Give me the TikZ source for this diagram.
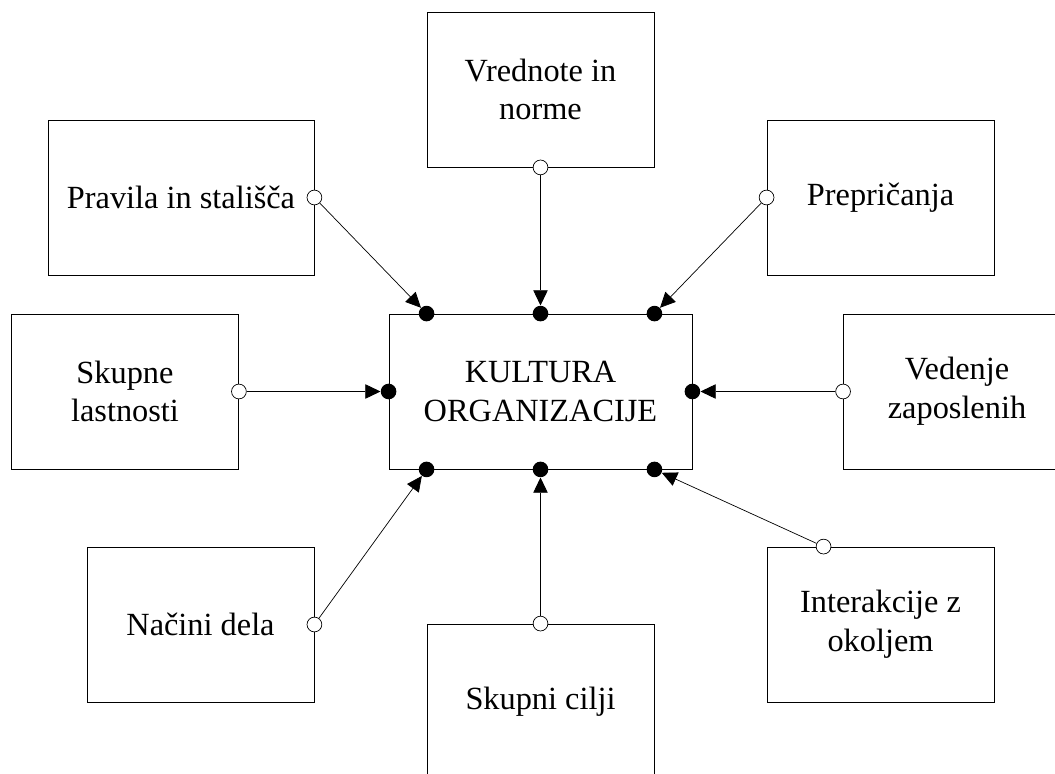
\documentclass[tikz,border=0pt]{standalone}
\usepackage{fontspec}
\setmainfont{Liberation Serif}
\usetikzlibrary{arrows.meta,calc}

\begin{document}
\begin{tikzpicture}[x=0.25mm,y=-0.25mm,
  okvir/.style={draw,line width=0.6pt,minimum width=56.75mm,minimum height=38.75mm,
    inner sep=0pt,align=center,font=\fontsize{23}{27.5}\selectfont},
  pika/.style={circle,fill=black,inner sep=0pt,minimum size=3.9mm},
  krog/.style={circle,draw,fill=white,line width=0.5pt,inner sep=0pt,minimum size=3.7mm},
  puscica/.style={-{Triangle[length=3.8mm,width=3.6mm]},line width=0.5pt}]
\useasboundingbox (0,0) rectangle (1055,774);
%Okvirji
\node[okvir,minimum width=75.75mm] (kultura) at (540.5,391.5) {KULTURA\\ORGANIZACIJE};
\node[okvir] (vrednote) at (540.5,89.5) {Vrednote in\\norme};
\node[okvir,minimum width=66.5mm] (pravila) at (181,197.5) {Pravila in stališča};
\node[okvir] (prepricanja) at (880.5,197.5) {Prepričanja};
\node[okvir] (skupne) at (125,391.5) {Skupne\\lastnosti};
\node[okvir] (vedenje) at (957,391.5) {Vedenje\\zaposlenih};
\node[okvir] (nacini) at (200.5,624.5) {Načini dela};
\node[okvir] (cilji) at (540.5,701.5) {Skupni cilji};
\node[okvir] (interakcije) at (880.5,624.5) {Interakcije z\\okoljem};
%Polne pike na osrednjem okvirju
\node[pika] (zl) at ($(kultura.north west)!0.125!(kultura.north east)$) {};
\node[pika] (zs) at (kultura.north) {};
\node[pika] (zd) at ($(kultura.north west)!0.875!(kultura.north east)$) {};
\node[pika] (sl) at (kultura.west) {};
\node[pika] (sd) at (kultura.east) {};
\node[pika] (sp1) at ($(kultura.south west)!0.125!(kultura.south east)$) {};
\node[pika] (sp2) at (kultura.south) {};
\node[pika] (sp3) at ($(kultura.south west)!0.875!(kultura.south east)$) {};
%Prazni krogi na zunanjih okvirjih
\node[krog] (k1) at (pravila.east) {};
\node[krog] (k2) at (vrednote.south) {};
\node[krog] (k3) at (prepricanja.west) {};
\node[krog] (k4) at (skupne.east) {};
\node[krog] (k5) at (vedenje.west) {};
\node[krog] (k6) at (nacini.east) {};
\node[krog] (k7) at (cilji.north) {};
\node[krog] (k8) at ($(interakcije.north west)!0.25!(interakcije.north east)$) {};
%Povezave
\draw[puscica] (k1) -- (zl);
\draw[puscica] (k2) -- (zs);
\draw[puscica] (k3) -- (zd);
\draw[puscica] (k4) -- (sl);
\draw[puscica] (k5) -- (sd);
\draw[puscica] (k6) -- (sp1);
\draw[puscica] (k7) -- (sp2);
\draw[puscica] (k8) -- (sp3);
\end{tikzpicture}
\end{document}
